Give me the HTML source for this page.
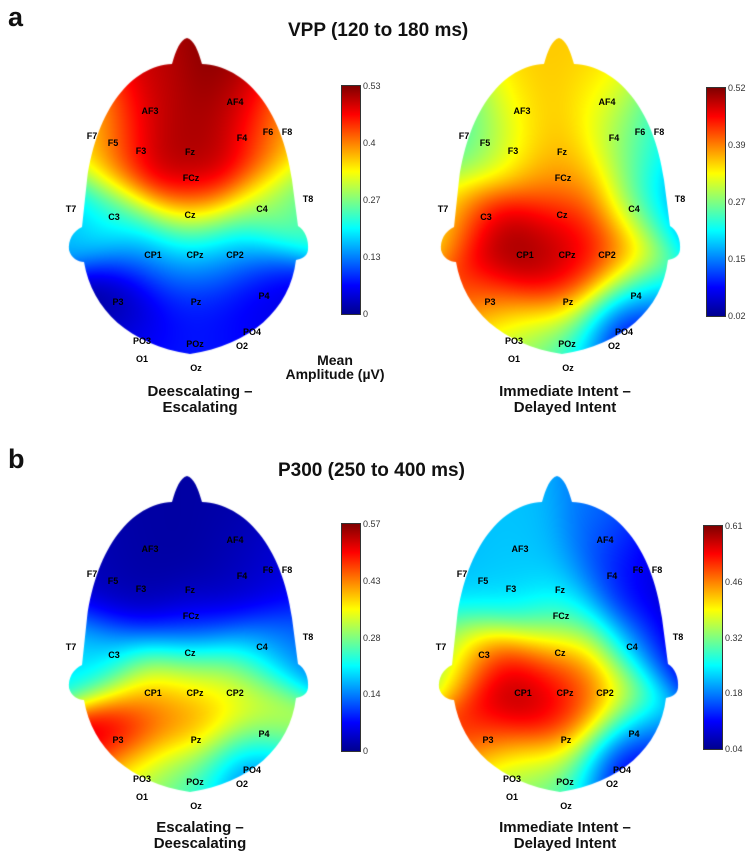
<!DOCTYPE html>
<html><head><meta charset="utf-8">
<style>
body{margin:0;background:#fff;width:750px;height:850px;position:relative;overflow:hidden;font-family:"Liberation Sans",sans-serif;}
.t{position:absolute;font-weight:bold;color:#111;white-space:nowrap;}
.el{position:absolute;font-weight:bold;font-size:9px;color:#000;transform:translate(-50%,-50%);}
.cb{position:absolute;width:18px;border:1px solid #333;background:linear-gradient(to top,#00008f 0%,#0000ff 12.5%,#0080ff 25%,#00ffff 37.5%,#80ff80 50%,#ffff00 62.5%,#ff8000 75%,#ff0000 87.5%,#800000 100%);}
.tk{position:absolute;font-size:9px;color:#333;transform:translateY(-50%);}
.cap{position:absolute;font-weight:bold;font-size:15px;text-align:center;width:200px;line-height:16px;color:#111;}
</style></head><body>
<canvas id="cv" width="750" height="850" style="position:absolute;left:0;top:0"></canvas>
<div class="t" style="left:8px;top:2px;font-size:27px">a</div>
<div class="t" style="left:288px;top:20px;font-size:19px">VPP (120 to 180 ms)</div>
<div class="t" style="left:8px;top:444px;font-size:27px">b</div>
<div class="t" style="left:278px;top:460px;font-size:19px">P300 (250 to 400 ms)</div>
<div class="t" style="left:275px;top:353px;font-size:14px;text-align:center;line-height:14px;width:120px">Mean<br>Amplitude (µV)</div>
<div class="cap" style="left:100px;top:384px">Deescalating –<br>Escalating</div>
<div class="cap" style="left:465px;top:384px">Immediate Intent –<br>Delayed Intent</div>
<div class="cap" style="left:100px;top:820px">Escalating –<br>Deescalating</div>
<div class="cap" style="left:465px;top:820px">Immediate Intent –<br>Delayed Intent</div>
<div id="ov"></div>
<script>
const names=["AF3","AF4","F7","F5","F3","Fz","F4","F6","F8","FCz","T7","C3","Cz","C4","T8","CP1","CPz","CP2","P3","Pz","P4","PO3","POz","PO4","O1","Oz","O2"];
const ex=[150,235,92,113,141,190,242,268,287,191,71,114,190,262,308,153,195,235,118,196,264,142,195,252,142,196,242];
const ey=[111,102,136,143,151,152,138,132,132,178,209,217,215,209,199,255,255,255,302,302,296,341,344,332,359,368,346];
const valsALeft=[.5,.53,.3,.4,.53,.5,.52,.4,.3,.53,.15,.22,.36,.3,.22,.12,.15,.13,.0,.08,.04,.05,.07,.06,.08,.09,.07];
const valsARight=[.36,.36,.2,.27,.35,.37,.3,.25,.16,.38,.3,.5,.46,.27,.12,.53,.49,.45,.42,.45,.2,.3,.25,.02,.28,.2,.05];
const valsBLeft=[.02,.02,.04,.02,.02,.01,.03,.05,.06,.06,.2,.18,.2,.17,.12,.44,.42,.35,.57,.45,.36,.3,.22,.08,.3,.25,.1];
const valsBRight=[.22,.18,.2,.24,.22,.22,.12,.11,.06,.3,.28,.53,.46,.2,.05,.62,.56,.46,.52,.53,.19,.36,.32,.04,.3,.28,.06];
const tickA1=["0.53","0.4","0.27","0.13","0"],tickA2=["0.52","0.39","0.27","0.15","0.02"];
const tickB1=["0.57","0.43","0.28","0.14","0"],tickB2=["0.61","0.46","0.32","0.18","0.04"];
const maps=[
 {id:"a-left",dx:0,dy:0,v:valsALeft,min:0,max:.53,ticks:tickA1,cb:[341,85,228]},
 {id:"a-right",dx:372,dy:0,v:valsARight,min:.02,max:.52,ticks:tickA2,cb:[706,87,228]},
 {id:"b-left",dx:0,dy:438,v:valsBLeft,min:0,max:.57,ticks:tickB1,cb:[341,523,227]},
 {id:"b-right",dx:370,dy:438,v:valsBRight,min:.04,max:.61,ticks:tickB2,cb:[703,525,223]}];
const headPath="M172,64 C176,50 180,40 187,38 C194,40 198,50 202,64 C245,66 282,108 292,180 L298,226 C305,230 309,240 308,250 C307,257 301,259 296,260 C290,310 250,345 190,354 C130,345 92,310 84,262 C78,262 71,258 69,250 C68,240 73,231 82,227 L87,180 C97,108 132,66 172,64 Z";
function jet(t){t=Math.max(0,Math.min(1,t));const c=x=>Math.round(255*Math.max(0,Math.min(1,x)));
 return [c(1.5-Math.abs(4*t-3)),c(1.5-Math.abs(4*t-2)),c(1.5-Math.abs(4*t-1))];}
const cv=document.getElementById('cv'),ctx=cv.getContext('2d');
const ov=document.getElementById('ov');
const S2=2*31*31;
maps.forEach(m=>{
 const W=260,H=330,ox=60,oy=35;
 const off=document.createElement('canvas');off.width=W;off.height=H;
 const oc=off.getContext('2d');const img=oc.createImageData(W,H);
 for(let y=0;y<H;y++)for(let x=0;x<W;x++){
  const px=x+ox,py=y+oy;let sw=0,sv=0;
  for(let i=0;i<names.length;i++){const d2=(px-ex[i])**2+(py-ey[i])**2;const w=Math.exp(-d2/S2)+1e-9/(d2+1);sw+=w;sv+=w*m.v[i];}
  const c=jet((sv/sw-m.min)/(m.max-m.min));const k=(y*W+x)*4;
  img.data[k]=c[0];img.data[k+1]=c[1];img.data[k+2]=c[2];img.data[k+3]=255;}
 oc.putImageData(img,0,0);
 ctx.save();ctx.translate(m.dx,m.dy);ctx.clip(new Path2D(headPath));ctx.drawImage(off,ox,oy);ctx.restore();
 names.forEach((n,i)=>{const d=document.createElement('div');d.className='el';d.textContent=n;
  d.style.left=(ex[i]+m.dx)+'px';d.style.top=(ey[i]+m.dy)+'px';
  
  ov.appendChild(d);});
 const b=document.createElement('div');b.className='cb';b.style.left=m.cb[0]+'px';b.style.top=m.cb[1]+'px';b.style.height=m.cb[2]+'px';
 
 ov.appendChild(b);
 m.ticks.forEach((t,i)=>{const d=document.createElement('div');d.className='tk';d.textContent=t;
  d.style.left=(m.cb[0]+22)+'px';d.style.top=(m.cb[1]+1+i*m.cb[2]/(m.ticks.length-1))+'px';
  
  ov.appendChild(d);});
});
</script>
</body></html>
